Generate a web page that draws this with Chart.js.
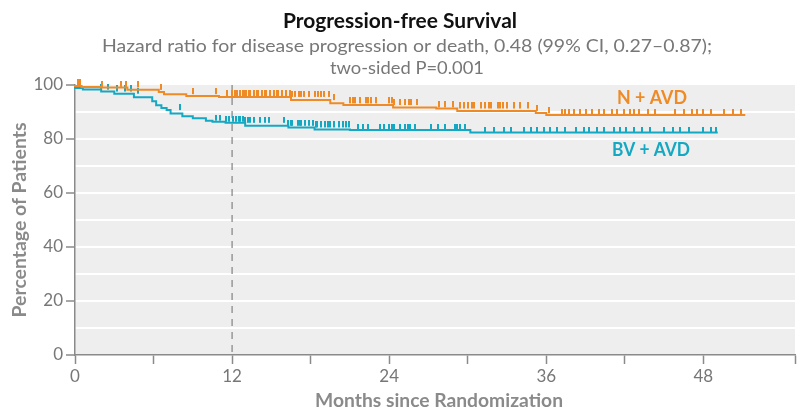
<!DOCTYPE html>
<html>
<head>
<meta charset="utf-8">
<script src="https://cdn.jsdelivr.net/npm/chart.js@4.4.1/dist/chart.umd.min.js"></script>
<style>
  html, body { margin: 0; padding: 0; background: #fff; }
  #wrap { width: 800px; height: 412px; }
</style>
</head>
<body>
<div id="wrap"><canvas id="pfs-chart" width="800" height="412"></canvas></div>
<script>
// Kaplan-Meier steps (months, % progression-free)
const nAvdMonths = [0, 0.5, 2, 4, 6.4, 6.8, 8.5, 11, 16.5, 19.5, 20.5, 24.3, 27.6, 29.2, 35.2, 36.0, 36.6, 51.2];
const nAvdPct    = [100, 99.6, 99.3, 99.1, 98.2, 97.4, 96.6, 95.9, 95.6, 94.4, 93.2, 92.6, 91.7, 91.3, 90.4, 89.6, 88.9, 88.9];
const bvAvdMonths = [0, 0.6, 2, 3, 4.5, 5.9, 6.2, 6.6, 7.0, 7.3, 8.2, 9.0, 10.0, 10.5, 11.5, 13.0, 16.3, 18.3, 21.0, 30.2, 30.8, 49.1];
const bvAvdPct    = [100, 98.9, 98.3, 97.6, 96.8, 95.5, 94.0, 92.5, 91.5, 90.7, 89.4, 88.4, 87.7, 86.8, 86.4, 86.0, 84.9, 84.3, 83.5, 83.3, 82.4, 82.4];

// censored observations (months)
const nAvdCensored = [0.2, 0.4, 2.1, 3.5, 3.9, 4.8, 6.6, 9.0, 10.8, 11.6, 12.0, 12.2, 12.4, 12.6, 12.8, 12.9, 13.1, 13.3, 13.4,
  13.7, 13.9, 14.0, 14.3, 14.5, 14.6, 14.9, 15.2, 15.4, 15.5, 15.8, 16.1, 16.4, 16.6, 16.8, 17.1, 17.3, 17.5,
  17.9, 18.3, 18.6, 18.8, 19.0, 19.4, 19.8, 21.0, 21.2, 21.4, 21.8, 22.2, 22.4, 22.6, 23.0, 24.0, 24.2, 24.4,
  24.8, 25.2, 25.5, 25.7, 26.1, 27.8, 28.3, 28.9, 29.4, 29.7, 30.0, 30.3, 30.5, 31.0, 31.3, 31.6, 31.8, 32.3,
  32.5, 32.7, 33.0, 33.5, 34.0, 34.6, 35.3, 36.2, 37.2, 37.4, 37.7, 38.1, 38.6, 39.0, 39.5, 40.0, 40.4, 41.0,
  41.4, 41.9, 42.4, 42.7, 43.1, 43.8, 44.3, 45.8, 46.5, 47.1, 47.5, 48.0, 48.6, 49.6, 50.3, 50.9];
const bvAvdCensored = [0.2, 0.4, 2.0, 2.5, 3.2, 3.8, 4.3, 4.8, 8.0, 10.8, 11.1, 11.5, 11.8, 12.1, 12.3, 12.5, 12.6, 12.8,
  13.0, 13.2, 13.4, 13.7, 14.1, 14.5, 14.8, 16.0, 16.3, 16.5, 16.6, 17.0, 17.2, 17.3, 17.6, 17.9, 18.2, 18.4,
  18.5, 18.8, 19.1, 19.3, 19.5, 19.8, 20.2, 20.5, 20.7, 20.9, 21.6, 22.0, 22.4, 23.3, 23.6, 24.0, 24.2, 24.4,
  24.8, 25.2, 25.4, 25.6, 26.0, 27.2, 27.7, 28.3, 29.0, 29.2, 29.4, 29.8, 31.3, 32.0, 32.8, 33.3, 34.3, 34.8,
  35.3, 35.8, 36.3, 36.8, 37.4, 38.3, 38.9, 39.3, 39.9, 40.4, 41.2, 41.6, 42.1, 42.7, 43.3, 43.9, 45.0, 45.7,
  46.2, 46.9, 48.0, 48.6, 49.0];

const xTicks = [0, 12, 24, 36, 48];
const yTicks = [0, 20, 40, 60, 80, 100];

const ORANGE = '#ee8b26';
const TEAL = '#14a8c2';
const FONT = "Lato, 'Noto Sans', sans-serif";

function toPoints(months, pct) {
  return months.map((m, i) => ({ x: m, y: pct[i] }));
}
// survival level at time t, read from the step arrays
function levelAt(months, pct, t) {
  let v = pct[0];
  for (let i = 0; i < months.length; i++) {
    if (months[i] <= t) v = pct[i];
  }
  return v;
}
function censorPoints(censored, months, pct) {
  return censored.map(t => ({ x: t, y: levelAt(months, pct, t) }));
}
// small upward tick used as censor mark
function censorMark(color, h) {
  const c = document.createElement('canvas');
  c.width = 2;
  c.height = h * 2;
  const g = c.getContext('2d');
  g.fillStyle = color;
  g.fillRect(0, 0, 2, h);
  return c;
}

// draw text squeezed/stretched horizontally to a given width
function fitText(ctx, text, x, y, width, font, color, rotate) {
  ctx.save();
  ctx.font = font;
  ctx.fillStyle = color;
  ctx.textAlign = 'center';
  ctx.textBaseline = 'middle';
  const w = ctx.measureText(text).width;
  ctx.translate(x, y);
  if (rotate) ctx.rotate(-Math.PI / 2);
  ctx.scale(width / w, 1);
  ctx.fillText(text, 0, 0);
  ctx.restore();
}

const backgroundPlugin = {
  id: 'plotBackground',
  beforeDraw(chart) {
    const { ctx, chartArea: a } = chart;
    ctx.save();
    ctx.fillStyle = '#eeeeee';
    ctx.fillRect(a.left, a.top, a.right - a.left, a.bottom - a.top);
    ctx.restore();
  },
  beforeDatasetsDraw(chart) {
    // dashed reference line at 12 months
    const { ctx, chartArea: a, scales } = chart;
    const x = scales.x.getPixelForValue(12);
    ctx.save();
    ctx.strokeStyle = '#8a8a8a';
    ctx.lineWidth = 1.3;
    ctx.setLineDash([7, 6]);
    ctx.beginPath();
    ctx.moveTo(x, a.top);
    ctx.lineTo(x, a.bottom);
    ctx.stroke();
    ctx.restore();
  }
};

const textPlugin = {
  id: 'texts',
  afterDraw(chart) {
    const { ctx } = chart;
    fitText(ctx, 'Progression-free Survival', 400, 21, 234, 'bold 21px ' + FONT, '#111');
    fitText(ctx, 'Hazard ratio for disease progression or death, 0.48 (99% CI, 0.27\u20130.87);', 407, 46, 610, '18px ' + FONT, '#777');
    fitText(ctx, 'two-sided P=0.001', 407, 68, 154, '18px ' + FONT, '#777');

    fitText(ctx, 'N + AVD', 652, 98, 70, 'bold 19px ' + FONT, ORANGE);
    fitText(ctx, 'BV + AVD', 651, 150, 78, 'bold 19px ' + FONT, TEAL);

    fitText(ctx, 'Months since Randomization', 439, 401, 248, 'bold 18px ' + FONT, '#8a8a8a');
    fitText(ctx, 'Percentage of Patients', 20, 220, 195, 'bold 18px ' + FONT, '#8a8a8a', true);
  }
};

Chart.register(backgroundPlugin, textPlugin);

const ctx = document.getElementById('pfs-chart').getContext('2d');
const pfsChart = new Chart(ctx, {
  type: 'line',
  data: {
    datasets: [
      {
        label: 'N + AVD',
        data: toPoints(nAvdMonths, nAvdPct),
        borderColor: ORANGE,
        borderWidth: 2,
        stepped: 'after',
        pointRadius: 0,
        clip: false
      },
      {
        label: 'BV + AVD',
        data: toPoints(bvAvdMonths, bvAvdPct),
        borderColor: TEAL,
        borderWidth: 2,
        stepped: 'after',
        pointRadius: 0,
        clip: false
      },
      {
        label: 'N + AVD censored',
        data: censorPoints(nAvdCensored, nAvdMonths, nAvdPct),
        showLine: false,
        pointStyle: censorMark(ORANGE, 6),
        pointRadius: 4,
        clip: false
      },
      {
        label: 'BV + AVD censored',
        data: censorPoints(bvAvdCensored, bvAvdMonths, bvAvdPct),
        showLine: false,
        pointStyle: censorMark(TEAL, 6),
        pointRadius: 4,
        clip: false
      }
    ]
  },
  options: {
    responsive: false,
    animation: false,
    layout: { padding: { top: 85, right: 0, left: 0, bottom: 0 } },
    plugins: {
      legend: { display: false },
      tooltip: { enabled: false },
      title: { display: false }
    },
    scales: {
      x: {
        type: 'linear',
        min: 0,
        max: 55,
        afterFit: scale => { scale.height = 57; },
        border: { color: '#8a8a8a', width: 1.5 },
        grid: {
          drawOnChartArea: false,
          drawTicks: true,
          tickLength: 9,
          tickColor: '#8a8a8a',
          tickWidth: 1.5
        },
        ticks: {
          stepSize: 6,
          color: '#777',
          padding: 2,
          font: { family: FONT, size: 17 },
          callback: value => xTicks.includes(value) ? value : ''
        }
      },
      y: {
        min: 0,
        max: 100,
        afterFit: scale => { scale.width = 75; },
        border: { color: '#8a8a8a', width: 1.5 },
        grid: {
          color: ctx => (ctx.tick.value === 0 || ctx.tick.value === 100) ? 'rgba(0,0,0,0)' : '#ffffff',
          lineWidth: 2,
          tickLength: 9,
          tickWidth: 1.5,
          tickColor: ctx => yTicks.includes(ctx.tick.value) ? '#8a8a8a' : 'rgba(0,0,0,0)'
        },
        ticks: {
          stepSize: 10,
          color: '#777',
          padding: 3,
          font: { family: FONT, size: 17 },
          callback: value => yTicks.includes(value) ? value : ''
        }
      }
    }
  }
});
</script>
</body>
</html>
